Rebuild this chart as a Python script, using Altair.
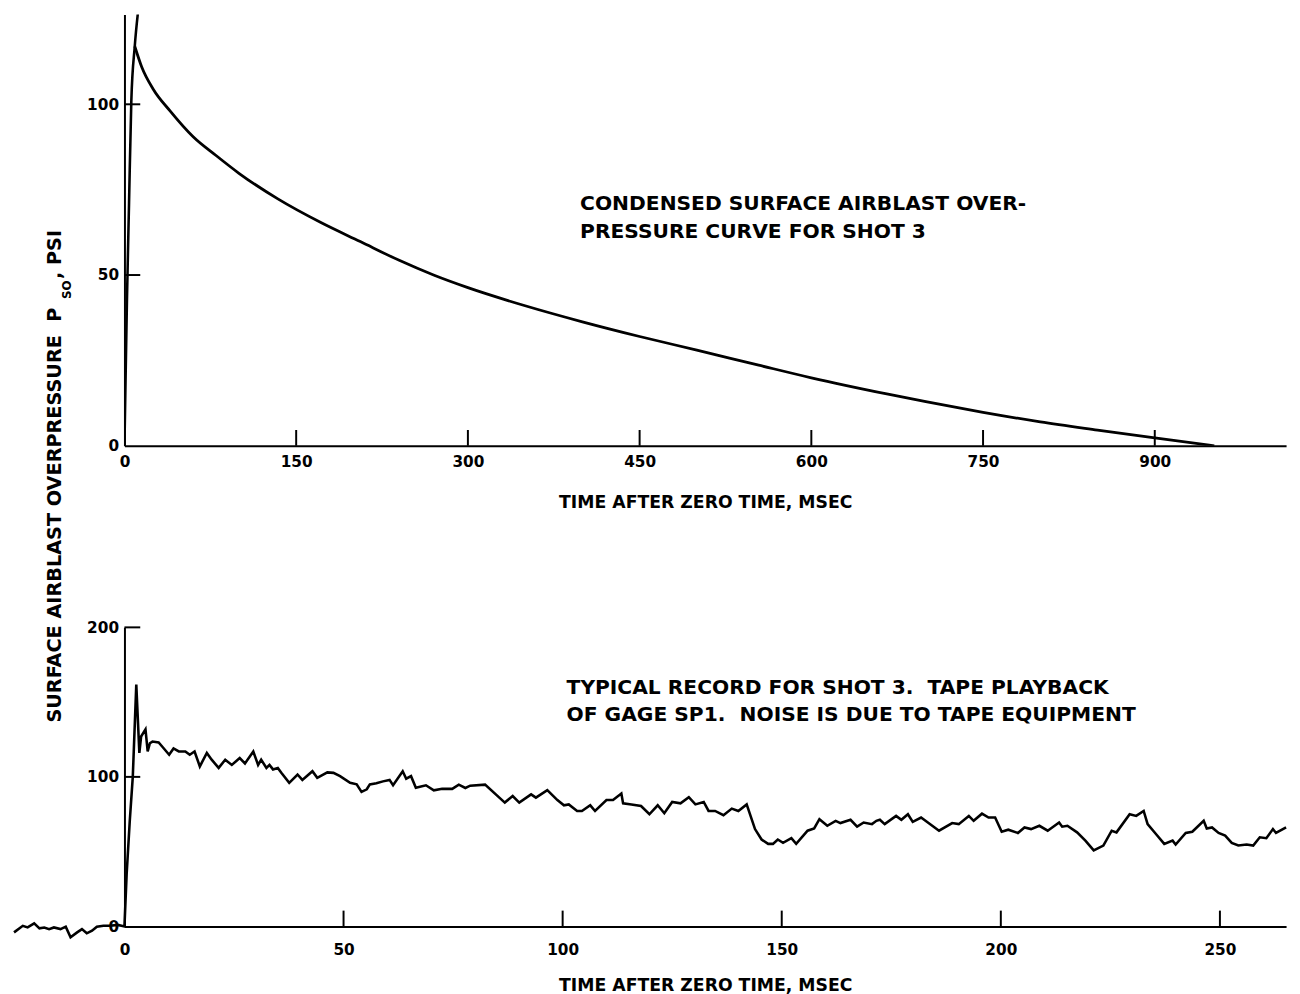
import altair as alt
import pandas as pd

# ---------------- data: top panel (condensed curve) ----------------
rise_t = [0, 1.0, 2.2, 4.0, 6.0, 9.0, 12.5]
rise_p = [0, 20, 43, 71, 101, 117, 129]

decay_t = [9, 15, 25, 40, 60, 80, 100, 134, 172, 206, 240, 270, 300, 350, 400,
           450, 500, 554, 600, 667, 700, 750, 800, 850, 900, 952]
decay_p = [117, 111, 104.5, 98, 90.5, 85, 79.8, 72.3, 65.3, 59.8, 54.3, 50,
           46.3, 41, 36.3, 32, 28, 23.6, 19.9, 15.1, 12.9, 9.8, 7, 4.6, 2.3, 0]

top_xticks = [0, 150, 300, 450, 600, 750, 900]
top_yticks = [0, 50, 100]
top_xmarks = [150, 300, 450, 600, 750, 900]
top_ymarks = [50, 100]

# ---------------- data: bottom panel (tape record) ----------------
rec_t = [-25.2, -23.2, -22.1, -20.6, -19.4, -18.3, -17.2, -16.1, -14.6, -13.4,
         -12.3, -10.8, -9.7, -8.6, -7.4, -6.3, -4.8, -3.3, -1.5, 0,
         0.5, 1.2, 1.9, 2.7, 3.4, 3.8, 4.8, 5.3, 5.8, 6.4, 7.8, 8.7, 10.2,
         11.2, 12.4, 13.9, 14.9, 16.0, 17.2, 18.8, 19.9, 21.5, 23.0, 24.5,
         26.3, 27.5, 29.4, 30.5, 31.2, 32.4, 33.1, 33.9, 35.0, 35.8, 37.6,
         39.5, 40.6, 42.9, 44.0, 46.3, 47.7, 49.2, 51.5, 53.0, 54.1, 55.3,
         56.0, 57.5, 59.0, 60.5, 61.3, 63.5, 64.3, 65.4, 66.5, 68.8, 70.6,
         72.5, 74.8,
         76.3, 77.8, 78.9, 82.3, 86.8, 88.6, 90.1, 92.8, 93.9, 96.5, 98.8,
         100.3, 101.4, 103.3, 104.4, 106.3, 107.4, 110.0, 111.5, 113.4, 113.8,
         115.7, 117.9, 119.8, 121.7, 123.2, 125.0, 126.9, 128.8, 130.3, 132.2,
         133.3, 134.8, 136.7, 138.6, 140.1, 142.0, 143.9, 145.4, 146.9, 148.0,
         149.1, 150.3, 152.2, 153.3, 155.9, 157.4, 158.6, 160.4, 162.3, 163.4,
         165.7, 167.2, 168.7, 170.6,
         171.6, 172.4, 173.5, 176.1, 177.3, 178.8, 179.9, 181.8, 185.9, 188.9,
         190.4, 192.7, 193.8, 195.7, 197.2, 198.7, 200.2, 201.7, 203.9, 205.4,
         206.9, 208.8, 210.7, 213.3, 214.0, 215.2, 217.4, 219.3, 221.2, 223.4,
         225.3, 226.4, 229.4, 230.9, 232.6, 233.5, 235.4, 237.3, 239.2, 239.9,
         242.2, 243.7, 246.3, 247.0, 248.2, 249.7, 251.2, 252.7, 254.2, 256.1,
         257.6, 259.1, 260.6, 262.1, 262.8, 265.1]
rec_p = [-4, 0.4, -0.7, 2, -1.3, -0.7, -1.8, -0.7, -1.8, -0.2,
         -7.3, -4, -1.8, -4.6, -2.9, -0.2, 0.4, 0.4, 1, 0,
         35, 70, 100, 161.7, 116, 127, 131.8, 117, 122.5, 123.6, 123, 120, 114.8,
         119, 117, 117, 114.8, 117, 107, 116, 111.5, 106, 111.5, 108,
         112.6, 109, 117, 108, 111.5, 106, 108, 105, 106, 102.7, 96,
         101.6, 98, 103.8, 99.4, 103, 102.7, 100.5, 96, 95, 90, 91.7,
         95, 95.7, 97, 98, 94.4, 103.8, 98.8, 100.5, 92.8, 94.4, 91,
         92, 92,
         94.8, 92.6, 94.1, 94.8, 82.8, 87.2, 82.8, 88.3, 86.1, 91.1, 84.5,
         81.0, 81.6, 77.2, 77.2, 81.0, 77.2, 84.5, 84.5, 88.9, 82.3,
         81.6, 80.5, 75.0, 81.0, 75.7, 83.2, 82.3, 86.4, 81.6, 83.2,
         77.2, 77.2, 74.4, 78.8, 77.2, 81.6, 65.1, 58.1, 55.2, 55.2,
         58.1, 55.9, 59.0, 55.2, 64.0, 65.5, 71.7, 67.3, 70.6, 69.1,
         71.3, 66.7, 69.5, 68.4,
         70.6, 71.3, 68.4, 73.9, 71.3, 75.0, 69.9, 72.8, 64.0, 69.1,
         68.4, 73.9, 70.6, 75.4, 72.8, 72.8, 63.3, 64.7, 62.5, 66.2,
         65.1, 67.3, 64.0, 69.5, 66.7, 67.3, 62.9, 57.4, 50.8, 54.1,
         64.0, 62.9, 75.0, 73.9, 77.2, 68.4, 61.8, 55.2, 57.4, 54.8,
         62.5, 63.3, 70.6, 65.5, 66.2, 62.5, 60.7, 55.9, 54.1, 54.8,
         54.1, 59.6, 59.0, 65.1, 62.5, 66.2]

bot_xticks = [0, 50, 100, 150, 200, 250]
bot_yticks = [0, 100, 200]
bot_xmarks = [50, 100, 150, 200, 250]
bot_ymarks = [100, 200]

# ---------------- text ----------------
NB = "\u00a0"
x_title = "TIME AFTER ZERO TIME, MSEC"
top_note = ["CONDENSED SURFACE AIRBLAST OVER-", "PRESSURE CURVE FOR SHOT 3"]
top_note_x = [398, 398]
top_note_y = [70.8, 62.7]
bot_note = ["TYPICAL RECORD FOR SHOT 3." + NB + " TAPE PLAYBACK",
            "OF GAGE SP1." + NB + " NOISE IS DUE TO TAPE EQUIPMENT"]
bot_note_x = [100.9, 100.9]
bot_note_y = [159.7, 141.3]
ytitle_main = "SURFACE AIRBLAST OVERPRESSURE" + NB + " P"
ytitle_sub = "SO"
ytitle_end = NB + ", PSI"

FONT = "DejaVu Sans"
W = 1177
H_TOP = 437
H_BOT = 303
TICK = 16

top_x_dom = [0, 1014.7]
top_y_dom = [0, 126.3]
bot_x_dom = [0, 265.1]
bot_y_dom = [0, 200]


def xdef(field, dom, values, lp, tp):
    return alt.X(field, type="quantitative",
                 scale=alt.Scale(domain=dom, nice=False, zero=False),
                 axis=alt.Axis(values=values, title=x_title, format="d",
                               labelPadding=lp, titlePadding=tp))


def ydef(field, dom, values):
    return alt.Y(field, type="quantitative",
                 scale=alt.Scale(domain=dom, nice=False),
                 axis=alt.Axis(values=values, title=None, format="d"))


def tx(field):
    return xdef(field, top_x_dom, top_xticks, 9, 24)


def ty(field):
    return ydef(field, top_y_dom, top_yticks)


def bx(field):
    return xdef(field, bot_x_dom, bot_xticks, 16, 19)


def by(field):
    return ydef(field, bot_y_dom, bot_yticks)


# ---- top panel ----
rise_df = pd.DataFrame({"t": rise_t, "p": rise_p})
decay_df = pd.DataFrame({"t": decay_t, "p": decay_p})

rise = alt.Chart(rise_df).mark_line(color="black", strokeWidth=2.6, clip=True,
                                    interpolate="monotone").encode(x=tx("t"), y=ty("p"))
decay = alt.Chart(decay_df).mark_line(color="black", strokeWidth=2.8, clip=True,
                                      interpolate="monotone").encode(x=tx("t"), y=ty("p"))

top_xm = alt.Chart(pd.DataFrame({"t": top_xmarks})).mark_rule(
    color="black", strokeWidth=2).encode(
    x=tx("t"), y=alt.value(H_TOP), y2=alt.value(H_TOP - TICK))
top_ym = alt.Chart(pd.DataFrame({"p": top_ymarks})).mark_rule(
    color="black", strokeWidth=2).encode(
    y=ty("p"), x=alt.value(0), x2=alt.value(TICK))

top_txt = alt.Chart(pd.DataFrame({"t": top_note_x, "p": top_note_y, "s": top_note})).mark_text(
    font=FONT, fontWeight="bold", fontSize=20.5, align="left", baseline="middle",
    color="black").encode(x=tx("t"), y=ty("p"), text="s:N")

yt1 = alt.Chart(pd.DataFrame({"s": [ytitle_main]})).mark_text(
    font=FONT, fontWeight="bold", fontSize=19.5, angle=270, align="right",
    baseline="middle", color="black").encode(
    x=alt.value(-70), y=alt.value(297), text="s:N")
yt2 = alt.Chart(pd.DataFrame({"s": [ytitle_sub]})).mark_text(
    font=FONT, fontWeight="bold", fontSize=12, angle=270, align="center",
    baseline="middle", color="black").encode(
    x=alt.value(-58), y=alt.value(279), text="s:N")
yt3 = alt.Chart(pd.DataFrame({"s": [ytitle_end]})).mark_text(
    font=FONT, fontWeight="bold", fontSize=19.5, angle=270, align="left",
    baseline="middle", color="black").encode(
    x=alt.value(-70), y=alt.value(268), text="s:N")

top = alt.layer(rise, decay, top_xm, top_ym, top_txt, yt1, yt2, yt3).properties(
    width=W, height=H_TOP)

# ---- bottom panel ----
rec_df = pd.DataFrame({"t": rec_t, "p": rec_p})
rec = alt.Chart(rec_df).mark_line(color="black", strokeWidth=2.6, clip=False).encode(
    x=bx("t"), y=by("p"))

bot_xm = alt.Chart(pd.DataFrame({"t": bot_xmarks})).mark_rule(
    color="black", strokeWidth=2).encode(
    x=bx("t"), y=alt.value(H_BOT), y2=alt.value(H_BOT - TICK))
bot_ym = alt.Chart(pd.DataFrame({"p": bot_ymarks})).mark_rule(
    color="black", strokeWidth=2).encode(
    y=by("p"), x=alt.value(0), x2=alt.value(TICK))

bot_txt = alt.Chart(pd.DataFrame({"t": bot_note_x, "p": bot_note_y, "s": bot_note})).mark_text(
    font=FONT, fontWeight="bold", fontSize=20.5, align="left", baseline="middle",
    color="black").encode(x=bx("t"), y=by("p"), text="s:N")

bottom = alt.layer(rec, bot_xm, bot_ym, bot_txt).properties(width=W, height=H_BOT)

chart = alt.vconcat(top, bottom, spacing=184, bounds="flush").properties(
    padding=0, background="white"
).configure_view(stroke=None).configure_axis(
    grid=False, ticks=False, domainColor="black", domainWidth=2,
    labelColor="black", labelFont=FONT, labelFontWeight="bold", labelFontSize=15.5,
    labelFlush=False, labelOverlap=False,
    titleColor="black", titleFont=FONT, titleFontWeight="bold", titleFontSize=17.5,
).configure_axisY(labelPadding=6)

chart.save("out.html", embed_options={"renderer": "svg", "actions": False})
